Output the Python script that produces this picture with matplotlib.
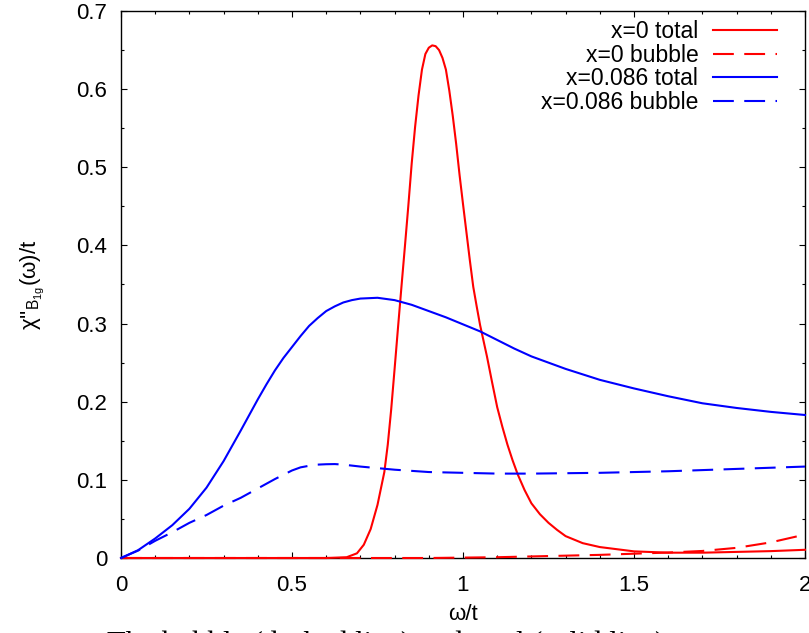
# Libraries
import numpy as np
import matplotlib
matplotlib.use('Agg')
import matplotlib.pyplot as plt
from matplotlib.ticker import MultipleLocator

plt.rcParams['font.family'] = ['Liberation Sans', 'DejaVu Sans']
plt.rcParams['mathtext.default'] = 'regular'

# Data
x0_total_w = [0.0, 0.6, 0.66, 0.69, 0.71, 0.73, 0.75, 0.77, 0.78, 0.79, 0.80, 0.81,
              0.82, 0.83, 0.84, 0.85, 0.86, 0.87, 0.88, 0.89, 0.90, 0.91, 0.92, 0.93,
              0.94, 0.95, 0.96, 0.97, 0.98, 0.99, 1.00, 1.01, 1.02, 1.03, 1.04, 1.05,
              1.06, 1.07, 1.085, 1.10, 1.115, 1.13, 1.145, 1.16, 1.18, 1.20, 1.225,
              1.25, 1.275, 1.30, 1.35, 1.40, 1.50, 1.60, 1.70, 1.80, 1.90, 2.00]
x0_total_chi = [0.0, 0.0, 0.001, 0.006, 0.017, 0.037, 0.068, 0.11, 0.145, 0.19, 0.242,
                0.295, 0.347, 0.398, 0.45, 0.505, 0.552, 0.592, 0.625, 0.645, 0.653,
                0.656, 0.655, 0.650, 0.640, 0.625, 0.598, 0.566, 0.53, 0.49, 0.453,
                0.417, 0.381, 0.347, 0.322, 0.298, 0.278, 0.258, 0.225, 0.193, 0.168,
                0.145, 0.125, 0.107, 0.087, 0.070, 0.056, 0.045, 0.036, 0.028, 0.019,
                0.014, 0.0085, 0.0068, 0.0068, 0.0078, 0.0088, 0.0105]

x0_bubble_w = [0.0, 0.9, 1.0, 1.1, 1.2, 1.3, 1.4, 1.5, 1.6, 1.7, 1.8, 1.9, 2.0]
x0_bubble_chi = [0.0, 0.0, 0.0005, 0.001, 0.002, 0.003, 0.004, 0.0055, 0.007, 0.009,
                 0.013, 0.02, 0.03]

x086_total_w = [0.0, 0.05, 0.1, 0.15, 0.2, 0.25, 0.3, 0.35, 0.4, 0.425, 0.45, 0.475,
                0.5, 0.525, 0.55, 0.575, 0.6, 0.625, 0.65, 0.675, 0.7, 0.75, 0.8, 0.85,
                0.9, 0.95, 1.0, 1.05, 1.1, 1.15, 1.2, 1.3, 1.4, 1.5, 1.6, 1.7, 1.8, 1.9,
                2.0]
x086_total_chi = [0.0, 0.010, 0.025, 0.042, 0.063, 0.09, 0.124, 0.163, 0.203, 0.222,
                  0.24, 0.256, 0.27, 0.284, 0.297, 0.307, 0.316, 0.322, 0.327, 0.330,
                  0.332, 0.333, 0.330, 0.324, 0.316, 0.308, 0.299, 0.290, 0.279, 0.268,
                  0.258, 0.242, 0.228, 0.217, 0.207, 0.198, 0.192, 0.187, 0.183]

x086_bubble_w = [0.0, 0.05, 0.08, 0.1, 0.15, 0.2, 0.25, 0.3, 0.35, 0.4, 0.45, 0.5, 0.525,
                 0.55, 0.575, 0.6, 0.625, 0.65, 0.7, 0.75, 0.8, 0.9, 1.0, 1.1, 1.2, 1.4,
                 1.6, 1.8, 2.0]
x086_bubble_chi = [0.0, 0.0095, 0.017, 0.022, 0.033, 0.045, 0.055, 0.067, 0.077, 0.089,
                   0.101, 0.112, 0.116, 0.118, 0.1195, 0.120, 0.1202, 0.1195, 0.117,
                   0.115, 0.113, 0.110, 0.109, 0.108, 0.108, 0.109, 0.111, 0.114, 0.117]

caption = 'The bubble (dashed line) and total (solid line)'

# Figure
fig = plt.figure(figsize=(8.09, 6.33), dpi=100)
ax = fig.add_axes([121/809, 75/633, 684/809, 547/633])

dash = (10, 5)
ax.plot(x0_total_w, x0_total_chi, color='#ff0000', lw=1.5, label='x=0 total', clip_on=False, zorder=3)
ax.plot(x0_bubble_w, x0_bubble_chi, color='#ff0000', lw=1.5, dashes=dash, label='x=0 bubble', clip_on=False, zorder=3)
ax.plot(x086_total_w, x086_total_chi, color='#0000ff', lw=1.5, label='x=0.086 total', clip_on=False, zorder=3)
ax.plot(x086_bubble_w, x086_bubble_chi, color='#0000ff', lw=1.5, dashes=dash, label='x=0.086 bubble', clip_on=False, zorder=3)

ax.set_xlim(0, 2)
ax.set_ylim(0, 0.7)
ax.xaxis.set_minor_locator(MultipleLocator(0.1))
ax.yaxis.set_minor_locator(MultipleLocator(0.05))
ax.set_xticks([0, 0.5, 1, 1.5, 2], ['0', '0.5', '1', '1.5', '2'])
ax.set_yticks([0, 0.1, 0.2, 0.3, 0.4, 0.5, 0.6, 0.7], ['0', '0.1', '0.2', '0.3', '0.4', '0.5', '0.6', '0.7'])
ax.tick_params(which='both', direction='in', top=True, right=True, labelsize=16)
ax.tick_params(axis='x', which='both', pad=12)
ax.tick_params(axis='y', which='both', pad=10)
ax.tick_params(which='major', length=4.5, width=0.8)
ax.tick_params(which='minor', length=2.5, width=0.8)
for s in ax.spines.values():
    s.set_linewidth(1.0)

ax.set_xlabel('ω/t', fontsize=16, labelpad=6)
ax.set_ylabel("χ''$_{B_{1g}}$(ω)/t", fontsize=16, labelpad=22)

ax.legend(loc='upper right', frameon=False, markerfirst=False, fontsize=16.5,
          handlelength=2.8, handletextpad=0.65, labelspacing=0.02,
          borderaxespad=0.0, bbox_to_anchor=(0.973, 1.0))

fig.text(107/809, 2/633, caption, fontsize=22, family='Liberation Serif', va='top')

plt.savefig('out.png', dpi=100)
